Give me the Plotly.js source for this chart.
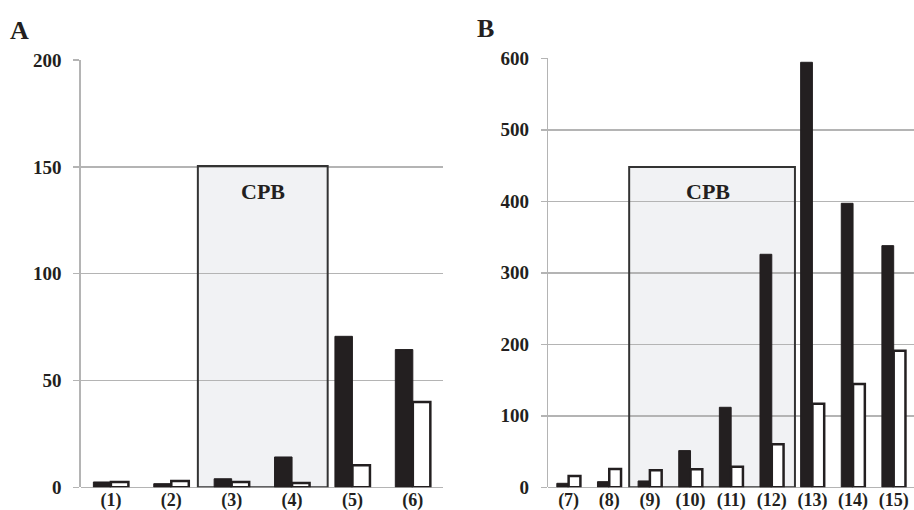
<!DOCTYPE html>
<html>
<head>
<meta charset="utf-8">
<script src="https://cdn.plot.ly/plotly-3.0.1.min.js"></script>
<style>html,body{margin:0;padding:0;background:#fff;}#chart{width:914px;height:510px;}</style>
</head>
<body>
<div id="chart"></div>
<script>
// Panel A data
const catsA = ["(1)", "(2)", "(3)", "(4)", "(5)", "(6)"];
const blackA = [2.5, 1.7, 4, 14.2, 70.7, 64.5];
const whiteA = [2.5, 3, 2.5, 2, 10.3, 40];
const ticksA = [0, 50, 100, 150, 200];

// Panel B data
const catsB = ["(7)", "(8)", "(9)", "(10)", "(11)", "(12)", "(13)", "(14)", "(15)"];
const blackB = [5.6, 7.9, 8.9, 51.3, 111.9, 325.9, 594.4, 397.2, 338];
const whiteB = [15.9, 25.6, 23.8, 25.2, 28.9, 60.1, 117, 144.5, 191.1];
const ticksB = [0, 100, 200, 300, 400, 500, 600];

// CPB period boxes (category-index span, height)
const cpbA = {start: 1.44, end: 3.59, top: 150.5, labelY: 138.6, label: "CPB"};
const cpbB = {start: 1.49, end: 5.57, top: 448, labelY: 414, label: "CPB"};

const serif = "Liberation Serif, Times New Roman, serif";
const dark = "#231f20";
const grid = "#b4b4b4";

function blackTrace(x, y, xa, ya) {
  return {type: "bar", x: x, y: y, xaxis: xa, yaxis: ya,
    marker: {color: dark, line: {color: dark, width: 1}}, showlegend: false, hoverinfo: "skip"};
}
function whiteTrace(x, y, xa, ya) {
  return {type: "bar", x: x, y: y, xaxis: xa, yaxis: ya,
    marker: {color: "#ffffff", line: {color: dark, width: 2.5}}, showlegend: false, hoverinfo: "skip"};
}

const data = [
  blackTrace(catsA, blackA, "x", "y"),
  whiteTrace(catsA, whiteA, "x", "y"),
  blackTrace(catsB, blackB, "x2", "y2"),
  whiteTrace(catsB, whiteB, "x2", "y2")
];

const bold = s => "<b>" + s + "</b>";

function yAxis(domain, range, ticks) {
  return {domain: domain, range: range, tickvals: ticks, ticktext: ticks.map(v => bold(String(v))),
    showgrid: true, gridcolor: grid, gridwidth: 1.5,
    zeroline: true, zerolinecolor: grid, zerolinewidth: 1.5,
    showline: true, linecolor: grid, linewidth: 1.5,
    ticks: "outside", ticklen: 6, tickcolor: grid, tickwidth: 1.5,
    ticklabelstandoff: 8, tickfont: {family: serif, size: 19, color: dark}, fixedrange: true};
}
function xAxis(domain, anchor, cats) {
  return {domain: domain, anchor: anchor, type: "category", showgrid: false,
    tickvals: cats, ticktext: cats.map(bold),
    zeroline: false, showline: false, ticks: "", tickfont: {family: serif, size: 18, color: dark},
    ticklabelstandoff: 0, fixedrange: true};
}

const boxFill = "#f1f2f4";
const boxLine = "#333333";

const layout = {
  width: 914, height: 510,
  margin: {l: 0, r: 0, t: 0, b: 0},
  paper_bgcolor: "#ffffff", plot_bgcolor: "rgba(0,0,0,0)",
  barmode: "group", bargap: 0.42, bargroupgap: 0,
  xaxis: xAxis([0.0883, 0.4847], "y", catsA),
  yaxis: yAxis([0.0445, 0.882], [0, 200], ticksA),
  xaxis2: xAxis([0.5999, 1.0], "y2", catsB),
  yaxis2: Object.assign(yAxis([0.0445, 0.8857], [0, 600], ticksB), {anchor: "x2"}),
  shapes: [
    {type: "rect", xref: "x", yref: "y", x0: cpbA.start, x1: cpbA.end, y0: 0, y1: cpbA.top,
      fillcolor: boxFill, line: {width: 0}, layer: "below"},
    {type: "rect", xref: "x", yref: "y", x0: cpbA.start, x1: cpbA.end, y0: 0, y1: cpbA.top,
      fillcolor: "rgba(0,0,0,0)", line: {color: boxLine, width: 2}, layer: "between"},
    {type: "rect", xref: "x2", yref: "y2", x0: cpbB.start, x1: cpbB.end, y0: 0, y1: cpbB.top,
      fillcolor: boxFill, line: {width: 0}, layer: "below"},
    {type: "rect", xref: "x2", yref: "y2", x0: cpbB.start, x1: cpbB.end, y0: 0, y1: cpbB.top,
      fillcolor: "rgba(0,0,0,0)", line: {color: boxLine, width: 2}, layer: "between"}
  ],
  annotations: [
    {xref: "x", yref: "y", x: (cpbA.start + cpbA.end) / 2, y: cpbA.labelY, text: bold(cpbA.label),
      showarrow: false, font: {family: serif, size: 22, color: dark}},
    {xref: "x2", yref: "y2", x: (cpbB.start + cpbB.end) / 2 - 0.1, y: cpbB.labelY, text: bold(cpbB.label),
      showarrow: false, font: {family: serif, size: 22, color: dark}},
    {xref: "paper", yref: "paper", x: 19 / 914, y: 1 - 30 / 510, text: bold("A"), showarrow: false,
      xanchor: "center", yanchor: "middle", font: {family: serif, size: 26, color: dark}},
    {xref: "paper", yref: "paper", x: 485 / 914, y: 1 - 28 / 510, text: bold("B"), showarrow: false,
      xanchor: "center", yanchor: "middle", font: {family: serif, size: 26, color: dark}}
  ]
};

Plotly.newPlot("chart", data, layout, {displayModeBar: false, staticPlot: true});
</script>
</body>
</html>
